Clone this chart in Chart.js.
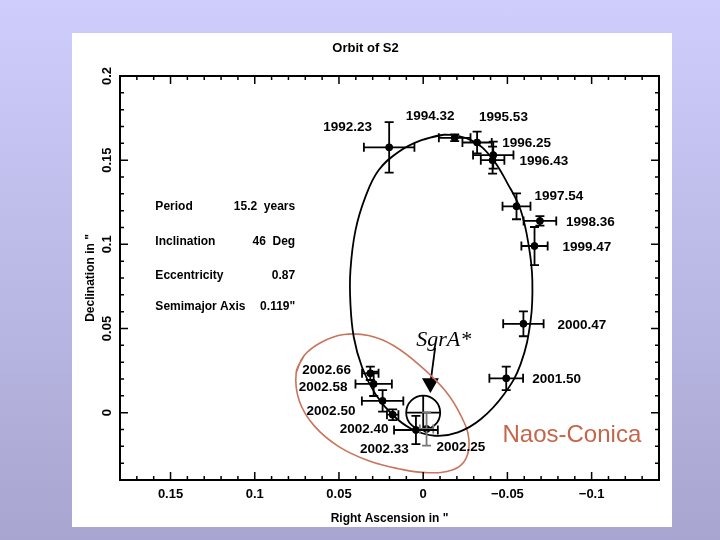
<!DOCTYPE html>
<html lang="en">
<head>
<meta charset="UTF-8">
<title>Orbit of S2</title>
<script src="https://cdn.jsdelivr.net/npm/chart.js"></script>
<style>
    body {
        margin: 0;
        width: 720px;
        height: 540px;
        overflow: hidden;
        background: linear-gradient(#cecdfc, #a8a6d0);
    }
    .panel {
        position: absolute;
        left: 72px;
        top: 33px;
        width: 600px;
        height: 494px;
        background: #fff;
    }
</style>
</head>
<body>
<div class="panel"><canvas id="chart" width="600" height="494"></canvas></div>
<script>
// observed positions of S2 (arcsec offsets from SgrA*)
const epochs = ['1992.23', '1994.32', '1995.53', '1996.25', '1996.43', '1997.54', '1998.36', '1999.47',
                '2000.47', '2001.50', '2002.25', '2002.33', '2002.40', '2002.50', '2002.58', '2002.66'];
const ra     = [0.0202, -0.0187, -0.032, -0.0416, -0.0412, -0.0554, -0.0693, -0.0661,
                -0.0595, -0.0493, -0.002, 0.0043, 0.0181, 0.0241, 0.0294, 0.0314];
const dec    = [0.1576, 0.1633, 0.1605, 0.153, 0.150, 0.1226, 0.1139, 0.099,
                0.0528, 0.0204, -0.0097, -0.0103, -0.0012, 0.007, 0.0171, 0.0234];
const raErr  = [0.015, 0.0094, 0.0087, 0.012, 0.007, 0.0083, 0.0097, 0.0078,
                0.012, 0.010, 0.004, 0.013, 0.0034, 0.0123, 0.0108, 0.0049];
const decErr = [0.015, 0.002, 0.0065, 0.008, 0.008, 0.0077, 0.0028, 0.0113,
                0.0074, 0.007, 0.0099, 0.0084, 0.0032, 0.0064, 0.0072, 0.004];

// fitted orbit
const orbitRA  = [-0.013, 0.0010, 0.0147, 0.0265, 0.0343, 0.0402, 0.0432, 0.0432, 0.0412, 0.0363, 0.0284, 0.0187, 0.0069,
                  -0.0069, -0.0206, -0.0343, -0.0481, -0.0579, -0.0638, -0.0648, -0.0628, -0.0579, -0.0501, -0.0402, -0.0284, -0.013, 0.0010];
const orbitDec = [0.1652, 0.1619, 0.1549, 0.1440, 0.1282, 0.1083, 0.0845, 0.0647, 0.0448, 0.0270, 0.0111, -0.0008, -0.0097,
                  -0.0137, -0.0117, -0.0038, 0.0111, 0.0290, 0.0548, 0.0786, 0.0984, 0.1202, 0.1361, 0.1520, 0.1619, 0.1652, 0.1619];

// Naos-Conica outline
const naosRA  = [0.0754, 0.0707, 0.0607, 0.0471, 0.0324, 0.0177, 0.0012, -0.0130, -0.0224, -0.0271, -0.0253, -0.0177,
                 -0.0029, 0.0147, 0.0324, 0.0501, 0.0648, 0.0736, 0.0754, 0.0707];
const naosDec = [0.0238, 0.0339, 0.0417, 0.0464, 0.0458, 0.0399, 0.0274, 0.0131, -0.0018, -0.0155, -0.0274, -0.0339,
                 -0.0357, -0.0333, -0.0286, -0.0202, -0.0077, 0.0071, 0.0238, 0.0339];

const raTicks  = [0.15, 0.1, 0.05, 0, -0.05, -0.1];
const decTicks = [0, 0.05, 0.1, 0.15, 0.2];

const paramNames  = ['Period', 'Inclination', 'Eccentricity', 'Semimajor Axis'];
const paramValues = ['15.2  years', '46  Deg', '0.87', '0.119"'];

// label offsets in px from each point (text left edge, middle)
const labelOffsets = [[-66, -20], [-49, -21], [2, -25], [9, -12], [27, 1], [18, -10], [26, 1], [28, 1],
                      [34, 1], [26, 1], [10, 18], [-56, 19], [-53, 15], [-76, 10], [-75, 3], [-68, -3]];

const FONT = '"Liberation Sans", Arial, sans-serif';
const pts = (xs, ys) => xs.map((x, i) => ({x: x, y: ys[i]}));
const fmt = v => v === 0 ? '0' : (v < 0 ? '\u2212' + String(-v) : String(v));

const frame = {
    id: 'frame',
    afterDraw(chart) {
        const {ctx, chartArea: a, scales: {x, y}} = chart;
        ctx.save();
        ctx.strokeStyle = '#000';
        ctx.lineWidth = 1.5;
        ctx.beginPath();
        for (let i = -13; i <= 17; i++) {
            const px = x.getPixelForValue(i / 100);
            const len = i % 5 === 0 ? 8 : 4;
            ctx.moveTo(px, a.bottom); ctx.lineTo(px, a.bottom - len);
            ctx.moveTo(px, a.top); ctx.lineTo(px, a.top + len);
        }
        for (let i = -3; i <= 19; i++) {
            const py = y.getPixelForValue(i / 100);
            const len = i % 5 === 0 ? 8 : 4;
            ctx.moveTo(a.left, py); ctx.lineTo(a.left + len, py);
            ctx.moveTo(a.right, py); ctx.lineTo(a.right - len, py);
        }
        ctx.stroke();
        ctx.lineWidth = 2;
        ctx.strokeRect(a.left, a.top, a.right - a.left, a.bottom - a.top);
        ctx.restore();
    }
};

const errorBars = {
    id: 'errorBars',
    afterDatasetsDraw(chart) {
        const {ctx, scales: {x, y}} = chart;
        ctx.save();
        ctx.lineWidth = 1.8;
        epochs.forEach((e, i) => {
            ctx.strokeStyle = e === '2002.25' ? '#777' : '#000';
            const cx = x.getPixelForValue(ra[i]), cy = y.getPixelForValue(dec[i]);
            const x1 = x.getPixelForValue(ra[i] - raErr[i]), x2 = x.getPixelForValue(ra[i] + raErr[i]);
            const y1 = y.getPixelForValue(dec[i] - decErr[i]), y2 = y.getPixelForValue(dec[i] + decErr[i]);
            ctx.beginPath();
            ctx.moveTo(x1, cy); ctx.lineTo(x2, cy);
            ctx.moveTo(x1, cy - 4.5); ctx.lineTo(x1, cy + 4.5);
            ctx.moveTo(x2, cy - 4.5); ctx.lineTo(x2, cy + 4.5);
            ctx.moveTo(cx, y1); ctx.lineTo(cx, y2);
            ctx.moveTo(cx - 4.5, y1); ctx.lineTo(cx + 4.5, y1);
            ctx.moveTo(cx - 4.5, y2); ctx.lineTo(cx + 4.5, y2);
            ctx.stroke();
        });
        ctx.restore();
    }
};

const texts = {
    id: 'texts',
    afterDraw(chart) {
        const {ctx, scales: {x, y}} = chart;
        ctx.save();
        ctx.fillStyle = '#000';
        ctx.textBaseline = 'middle';
        ctx.textAlign = 'left';
        ctx.font = 'bold 13.5px ' + FONT;
        epochs.forEach((e, i) => {
            ctx.fillText(e, x.getPixelForValue(ra[i]) + labelOffsets[i][0], y.getPixelForValue(dec[i]) + labelOffsets[i][1]);
        });
        const rows = [0.1222, 0.1018, 0.0815, 0.0627];
        ctx.font = 'bold 12px ' + FONT;
        paramNames.forEach((n, i) => {
            ctx.textAlign = 'left';
            ctx.fillText(n, x.getPixelForValue(0.159), y.getPixelForValue(rows[i]));
            ctx.textAlign = 'right';
            ctx.fillText(paramValues[i], x.getPixelForValue(0.076), y.getPixelForValue(rows[i]));
        });
        ctx.textAlign = 'left';
        ctx.font = 'italic 22px "Liberation Serif", "Times New Roman", serif';
        ctx.fillText('SgrA*', x.getPixelForValue(0.0041), y.getPixelForValue(0.0429));
        ctx.fillStyle = '#c4664a';
        ctx.font = '24px ' + FONT;
        ctx.fillText('Naos-Conica', x.getPixelForValue(-0.0471), y.getPixelForValue(-0.0137));
        ctx.restore();
    }
};

new Chart(document.getElementById('chart'), {
    type: 'scatter',
    data: {
        datasets: [
            {data: pts(orbitRA, orbitDec), showLine: true, tension: 0.4, borderColor: '#000', borderWidth: 1.8, pointRadius: 0},
            {data: pts(naosRA, naosDec), showLine: true, tension: 0.4, borderColor: '#c9755c', borderWidth: 1.6, pointRadius: 0},
            {data: pts(ra, dec), pointRadius: 3.5, backgroundColor: '#000', borderColor: '#000'},
            {data: [{x: 0, y: 0}], pointStyle: 'circle', pointRadius: 17, borderColor: '#000', borderWidth: 1.8, backgroundColor: 'rgba(0,0,0,0)'},
            {data: [{x: 0, y: 0}], pointStyle: 'cross', pointRadius: 17, borderColor: '#000', borderWidth: 1.8},
            {data: [{x: -0.0071, y: 0.0387}, {x: -0.0043, y: 0.0175}], showLine: true, borderColor: '#000', borderWidth: 1.8,
             pointRadius: [0, 8], pointStyle: 'triangle', pointRotation: 180, backgroundColor: '#000'}
        ]
    },
    options: {
        responsive: false,
        animation: false,
        layout: {autoPadding: false, padding: {left: 0, right: 13, top: 0, bottom: 0}},
        plugins: {
            legend: {display: false},
            tooltip: {enabled: false},
            title: {display: true, text: 'Orbit of S2', color: '#000', font: {family: FONT, size: 13, weight: 'bold'},
                    padding: {top: 7.5, bottom: 19.9}}
        },
        scales: {
            x: {
                type: 'linear', reverse: true, min: -0.14, max: 0.18,
                afterBuildTicks: s => { s.ticks = raTicks.map(v => ({value: v})); },
                afterFit: s => { s.height = 47; },
                grid: {display: false, drawTicks: false},
                border: {display: false},
                ticks: {color: '#000', padding: 7, maxRotation: 0, font: {family: FONT, size: 13, weight: 'bold'}, callback: v => fmt(v)},
                title: {display: true, text: 'Right Ascension in "', color: '#000', font: {family: FONT, size: 12, weight: 'bold'},
                        padding: {top: 0, bottom: 1}}
            },
            y: {
                type: 'linear', min: -0.04, max: 0.2,
                afterBuildTicks: s => { s.ticks = decTicks.map(v => ({value: v})); },
                afterFit: s => { s.width = 48; },
                grid: {display: false, drawTicks: false},
                border: {display: false},
                ticks: {color: '#000', padding: 0, minRotation: 90, maxRotation: 90, crossAlign: 'center',
                        font: {family: FONT, size: 13, weight: 'bold'}, callback: v => fmt(v)},
                title: {display: true, text: 'Declination in "', color: '#000', font: {family: FONT, size: 12, weight: 'bold'},
                        padding: {top: 11, bottom: 0}}
            }
        }
    },
    plugins: [frame, errorBars, texts]
});
</script>
</body>
</html>
